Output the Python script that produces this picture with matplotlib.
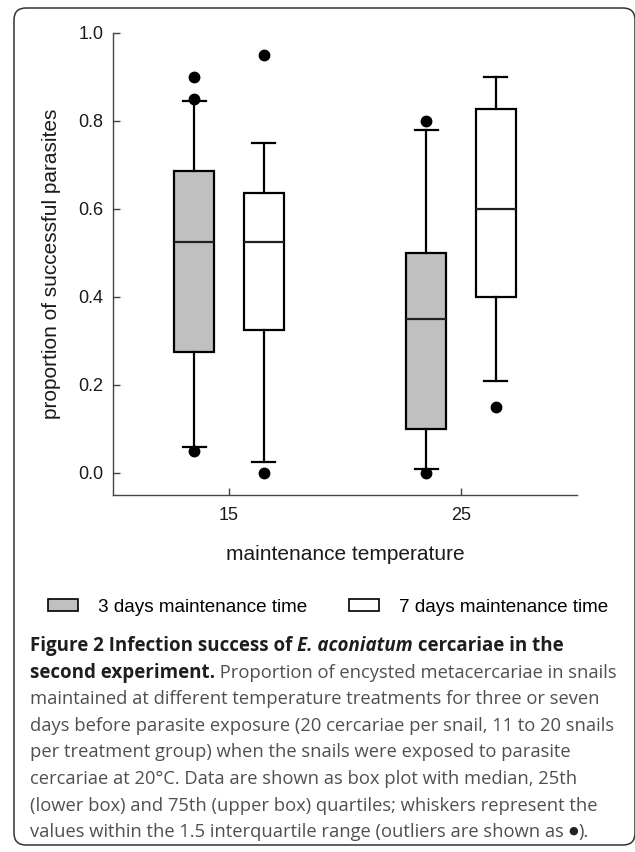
import matplotlib
matplotlib.use("Agg")
import matplotlib.pyplot as plt
from matplotlib.patches import Patch, FancyBboxPatch
from matplotlib.transforms import IdentityTransform

# data
temperatures = [15, 25]
groups = ["3 days maintenance time", "7 days maintenance time"]
# order: (15, 3d), (15, 7d), (25, 3d), (25, 7d)
q1 = [0.274, 0.324, 0.100, 0.400]
med = [0.524, 0.524, 0.350, 0.600]
q3 = [0.687, 0.637, 0.500, 0.826]
whislo = [0.059, 0.024, 0.008, 0.210]
whishi = [0.845, 0.750, 0.780, 0.900]
fliers = [[0.05, 0.85, 0.90], [0.00, 0.95], [0.00, 0.80], [0.15]]

W, H = 635, 852
plt.rcParams['font.family'] = ['Liberation Sans', 'DejaVu Sans']
fig = plt.figure(figsize=(W / 100, H / 100), dpi=100)
ax = fig.add_axes([113 / W, 1 - 495 / H, 464 / W, 462.3 / H])

offset = 1.5
positions = []
for t in temperatures:
    positions += [t - offset, t + offset]

stats = []
for i in range(4):
    stats.append(dict(q1=q1[i], med=med[i], q3=q3[i], whislo=whislo[i],
                      whishi=whishi[i], fliers=fliers[i]))

lw = 1.6
bp = ax.bxp(stats, positions=positions, widths=1.7, capwidths=1.0,
            patch_artist=True, showfliers=True, manage_ticks=False,
            boxprops=dict(linewidth=lw, edgecolor='black'),
            whiskerprops=dict(linewidth=lw, color='black'),
            capprops=dict(linewidth=lw, color='black'),
            medianprops=dict(linewidth=lw, color='#222222'),
            flierprops=dict(marker='o', markerfacecolor='black',
                            markeredgecolor='black', markersize=7.5))
fills = ['#c0c0c0', 'white', '#c0c0c0', 'white']
for patch, c in zip(bp['boxes'], fills):
    patch.set_facecolor(c)

ax.set_xlim(10, 30)
ax.set_ylim(-0.05, 1.0)
ax.set_xticks(temperatures)
ax.set_xticklabels([str(t) for t in temperatures])
ax.set_yticks([0.0, 0.2, 0.4, 0.6, 0.8, 1.0])
ax.set_yticklabels(['0.0', '0.2', '0.4', '0.6', '0.8', '1.0'])
for s in ['top', 'right']:
    ax.spines[s].set_visible(False)
for s in ['left', 'bottom']:
    ax.spines[s].set_linewidth(1.0)
    ax.spines[s].set_color('#444444')
ax.tick_params(axis='both', direction='in', length=5, width=1.0,
               color='#444444', labelsize=13, labelcolor='#1a1a1a')
ax.tick_params(axis='x', pad=9)
ax.tick_params(axis='y', pad=7)
ax.set_ylabel('proportion of successful parasites', fontsize=15, color='#1a1a1a')
ax.set_xlabel('maintenance temperature', fontsize=15, color='#1a1a1a')
ax.yaxis.set_label_coords(-0.112, 0.5)
ax.xaxis.set_label_coords(0.5, -0.108)

handles = [Patch(facecolor=c, edgecolor='black', linewidth=1.2) for c in fills[:2]]
fig.legend(handles, groups, loc='center left', bbox_to_anchor=(48 / W, 1 - 607 / H),
           ncol=2, frameon=False, fontsize=13.6, handlelength=1.6, handleheight=0.65,
           handletextpad=1.05, columnspacing=2.2, borderpad=0, borderaxespad=0)

# caption
fig.canvas.draw()
renderer = fig.canvas.get_renderer()
dark = '#1e1e1e'
body = '#505050'
cap_fam = ['Open Sans', 'DejaVu Sans']
bold = dict(family=cap_fam, weight='bold', color=dark, fontsize=13.5)
bolditalic = dict(family=cap_fam, weight='bold', style='italic', color=dark, fontsize=13.5)
reg = dict(family=cap_fam, color=body, fontsize=13.2)
dot = dict(reg, fontsize=8, color='#222222')

def advance(s, kw):
    a = fig.text(0, 0, s + '|', **kw)
    b = fig.text(0, 0, '|', **kw)
    w = a.get_window_extent(renderer).width - b.get_window_extent(renderer).width
    a.remove()
    b.remove()
    return w

# pieces: (text, style, baseline lift in px)
lines = [
    [("Figure 2 Infection success of ", bold, 0), ("E. aconiatum", bolditalic, 0),
     (" cercariae in the", bold, 0)],
    [("second experiment.", bold, 0),
     (" Proportion of encysted metacercariae in snails", reg, 0)],
    [("maintained at different temperature treatments for three or seven", reg, 0)],
    [("days before parasite exposure (20 cercariae per snail, 11 to 20 snails", reg, 0)],
    [("per treatment group) when the snails were exposed to parasite", reg, 0)],
    [("cercariae at 20\u00b0C. Data are shown as box plot with median, 25th", reg, 0)],
    [("(lower box) and 75th (upper box) quartiles; whiskers represent the", reg, 0)],
    [("values within the 1.5 interquartile range (outliers are shown as ", reg, 0),
     ("\u25cf", dot, 3.5), (").", reg, 0)],
]
y0 = 651
for i, pieces in enumerate(lines):
    x = 30
    y = y0 + i * 26.6
    for s, kw, lift in pieces:
        fig.text(x / W, 1 - (y - lift) / H, s, ha='left', va='baseline', **kw)
        x += advance(s, kw)

frame = FancyBboxPatch((14, H - 845), 621, 837, boxstyle="round,pad=0,rounding_size=12",
                       transform=IdentityTransform(), facecolor='none',
                       edgecolor='#333333', linewidth=1.1)
fig.patches.append(frame)

fig.savefig('out.png', dpi=100)
